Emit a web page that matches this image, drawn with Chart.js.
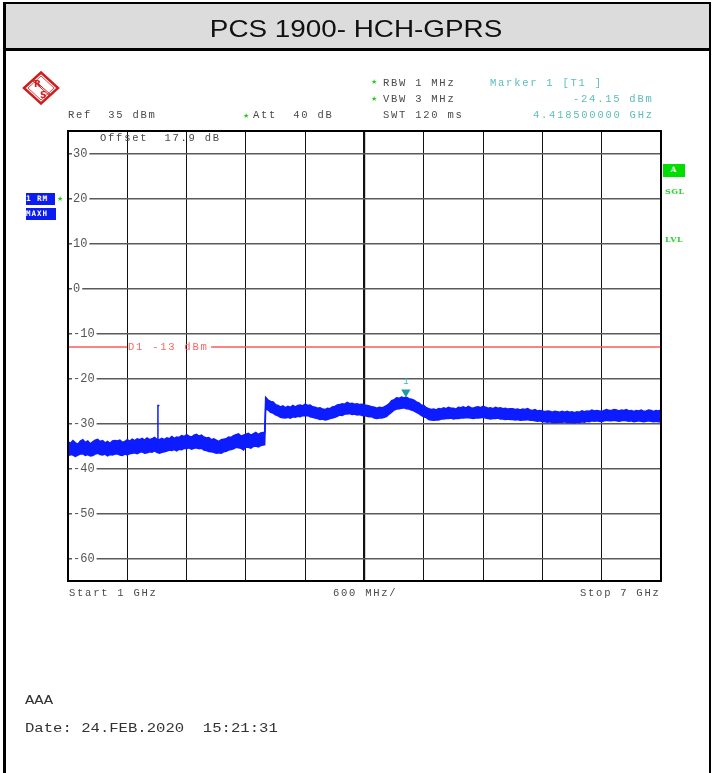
<!DOCTYPE html>
<html><head><meta charset="utf-8">
<script src="https://cdn.jsdelivr.net/npm/chart.js@4.4.1/dist/chart.umd.min.js"></script>
<style>
html,body{margin:0;padding:0;background:#fff;width:713px;height:773px;overflow:hidden}
#wrap{position:relative;width:713px;height:773px}
canvas{position:absolute;left:0;top:0}
.ln{position:absolute;background:#000}
.t{position:absolute;white-space:pre;font-family:"Liberation Mono",monospace;font-size:10.5px;letter-spacing:1.75px;color:#4a4a4a;line-height:12px;height:12px}
.teal{color:#5cbcbc}
.star{position:absolute;color:#22cc22;font-family:"DejaVu Sans",sans-serif;font-size:7px;line-height:8px}
.box{position:absolute;overflow:hidden;font-family:"DejaVu Sans Mono",monospace;font-weight:bold;font-size:7.5px;color:#fff;line-height:11px;white-space:pre;letter-spacing:1px}
.grn{position:absolute;font-family:"DejaVu Serif",serif;font-weight:bold;font-size:8px;color:#2fd22f;line-height:10px;letter-spacing:0.5px}
.foot{position:absolute;white-space:pre;font-family:"Liberation Mono",monospace;font-size:13px;color:#333;transform:scaleX(1.2);transform-origin:0 50%;line-height:16px}
#title{position:absolute;left:0;width:713px;top:14px;text-align:center;font-family:"Liberation Sans",Arial,sans-serif;font-size:24px;line-height:30px;color:#111}
#title span{display:inline-block;transform:scaleX(1.16)}
</style>
</head>
<body>
<div id="wrap">
<canvas id="c" width="713" height="773"></canvas>
<!-- page frame -->
<div class="ln" style="left:5px;top:4px;width:704px;height:44px;background:#dcdcdc"></div>
<div class="ln" style="left:3px;top:2px;width:708px;height:2px"></div>
<div class="ln" style="left:3px;top:48px;width:708px;height:3px"></div>
<div class="ln" style="left:3px;top:2px;width:2.5px;height:771px"></div>
<div class="ln" style="left:709px;top:2px;width:2px;height:771px"></div>
<div id="title"><span>PCS 1900- HCH-GPRS</span></div>

<!-- R&S logo -->
<svg style="position:absolute;left:22px;top:71px" width="38" height="34" viewBox="0 0 38 34">
  <polygon points="19,1.5 36,17 19,32.5 2,17" fill="none" stroke="#cc1f1f" stroke-width="2.5"/>
  <polygon points="19,5 32,17 19,29 6,17" fill="none" stroke="#cc1f1f" stroke-width="0.8"/>
  <line x1="10" y1="9" x2="28" y2="25" stroke="#cc1f1f" stroke-width="1"/>
  <line x1="11" y1="8" x2="29" y2="24" stroke="#cc1f1f" stroke-width="1"/>
  <text x="12" y="16" font-family="DejaVu Sans" font-weight="bold" font-size="9" fill="#cc1f1f">R</text>
  <text x="18" y="27" font-family="DejaVu Sans" font-weight="bold" font-size="9" fill="#cc1f1f">S</text>
</svg>

<div class="star" style="left:371px;top:78px">★</div>
<div class="t" style="left:383px;top:77px">RBW 1 MHz</div>
<div class="star" style="left:371px;top:95px">★</div>
<div class="t" style="left:383px;top:93px">VBW 3 MHz</div>
<div class="t" style="left:383px;top:109px">SWT 120 ms</div>
<div class="t teal" style="left:490px;top:77px">Marker 1 [T1 ]</div>
<div class="t teal" style="left:573px;top:93px">-24.15 dBm</div>
<div class="t teal" style="left:533px;top:109px">4.418500000 GHz</div>
<div class="t" style="left:68px;top:109px">Ref  35 dBm</div>
<div class="star" style="left:243px;top:112px">★</div>
<div class="t" style="left:253px;top:109px">Att  40 dB</div>
<div class="t" style="left:100px;top:132px">Offset  17.9 dB</div>
<div class="t" style="left:128px;top:341px;color:#ff6464">D1 -13 dBm</div>

<div class="box" style="left:26px;top:193px;width:29px;height:12px;background:#0a1cf0">1 RM</div>
<div class="star" style="left:57px;top:195px">★</div>
<div class="box" style="left:26px;top:208px;width:30px;height:12px;background:#0a1cf0">MAXH</div>
<div class="box" style="left:663px;top:164px;width:22px;height:13px;background:#00dd00;text-align:center;font-family:'DejaVu Serif',serif">A</div>
<div class="grn" style="left:665px;top:186px">SGL</div>
<div class="grn" style="left:665px;top:234px">LVL</div>

<div class="t" style="left:69px;top:587px">Start 1 GHz</div>
<div class="t" style="left:333px;top:587px">600 MHz/</div>
<div class="t" style="left:580px;top:587px">Stop 7 GHz</div>

<div class="foot" style="left:25px;top:693px">AAA</div>
<div class="foot" style="left:25px;top:721px">Date: 24.FEB.2020  15:21:31</div>
</div>

<script>
// ---------- data ----------
const freqMHz = [
 1000,1025,1050,1075,1100,1125,1150,1175,1200,1225,1250,1275,1300,1325,1350,1375,1400,1425,1450,1475,
 1500,1525,1550,1575,1600,1625,1650,1675,1700,1725,1750,1775,1800,1825,1850,1875,1900,1925,1950,1975,
 2000,2025,2050,2075,2100,2125,2150,2175,2200,2225,2250,2275,2300,2325,2350,2375,2400,2425,2450,2475,
 2500,2525,2550,2575,2600,2625,2650,2675,2700,2725,2750,2775,2800,2825,2850,2875,2900,2925,2950,2975,2990,
 3000,3025,3050,3075,3100,3125,3150,3175,3200,3225,3250,3275,3300,3325,3350,3375,3400,3425,3450,3475,
 3500,3525,3550,3575,3600,3625,3650,3675,3700,3725,3750,3775,3800,3825,3850,3875,3900,3925,3950,3975,
 4000,4025,4050,4075,4100,4125,4150,4175,4200,4225,4250,4275,4300,4325,4350,4375,4400,4425,4450,4475,
 4500,4525,4550,4575,4600,4625,4650,4675,4700,4725,4750,4775,4800,4825,4850,4875,4900,4925,4950,4975,
 5000,5025,5050,5075,5100,5125,5150,5175,5200,5225,5250,5275,5300,5325,5350,5375,5400,5425,5450,5475,
 5500,5525,5550,5575,5600,5625,5650,5675,5700,5725,5750,5775,5800,5825,5850,5875,5900,5925,5950,5975,
 6000,6025,6050,6075,6100,6125,6150,6175,6200,6225,6250,6275,6300,6325,6350,6375,6400,6425,6450,6475,
 6500,6525,6550,6575,6600,6625,6650,6675,6700,6725,6750,6775,6800,6825,6850,6875,6900,6925,6950,6975,
 7000];

const traceMaxDbm = [
 -34.0,-34.4,-33.8,-34.3,-34.6,-33.9,-33.6,-34.2,-33.9,-34.5,-34.1,-33.7,-33.5,-34.0,-33.8,-34.3,-34.0,-34.4,-33.9,-33.8,
 -33.9,-33.7,-34.2,-34.0,-33.6,-33.9,-33.5,-33.8,-33.4,-33.6,-33.3,-33.7,-33.2,-33.6,-33.4,-33.1,-33.5,-33.6,-33.3,-33.6,
 -33.2,-33.4,-32.9,-33.3,-33.0,-33.1,-32.7,-32.9,-32.5,-32.8,-33.0,-32.6,-32.4,-32.8,-32.6,-33.0,-33.2,-33.1,-33.6,-33.4,
 -33.7,-34.0,-33.6,-33.5,-33.4,-33.0,-33.1,-32.7,-32.5,-32.3,-32.8,-32.6,-32.4,-32.2,-32.6,-32.3,-32.0,-32.4,-32.1,-32.0,-32.0,
 -24.2,-24.8,-25.1,-25.2,-25.8,-26.0,-26.3,-26.1,-26.5,-26.2,-26.4,-26.0,-26.3,-26.0,-25.9,-26.1,-25.7,-26.0,-25.9,-26.3,
 -26.4,-26.6,-26.5,-26.8,-26.9,-26.6,-26.7,-26.3,-26.2,-25.9,-25.8,-25.6,-25.7,-25.3,-25.6,-25.5,-25.7,-25.6,-25.8,-25.7,
 -25.9,-26.0,-26.1,-26.3,-26.4,-26.6,-26.4,-26.5,-26.3,-26.0,-25.6,-24.9,-24.7,-24.3,-24.4,-24.1,-24.3,-24.2,-24.5,-24.6,
 -24.8,-25.2,-25.4,-25.9,-26.0,-26.5,-26.7,-26.9,-26.8,-27.0,-26.7,-26.8,-26.5,-26.7,-26.4,-26.6,-26.6,-26.8,-26.4,-26.5,
 -26.3,-26.6,-26.2,-26.5,-26.6,-26.4,-26.3,-26.5,-26.2,-26.4,-26.6,-26.5,-26.7,-26.4,-26.6,-26.5,-26.7,-26.6,-26.8,-26.7,
 -26.7,-26.9,-26.8,-27.0,-26.8,-26.9,-26.7,-27.0,-27.1,-26.9,-27.2,-27.1,-27.2,-27.4,-27.2,-27.3,-27.5,-27.3,-27.4,-27.5,
 -27.3,-27.5,-27.3,-27.5,-27.4,-27.6,-27.4,-27.5,-27.2,-27.4,-27.2,-27.3,-27.0,-27.2,-27.1,-27.2,-27.3,-27.1,-26.9,-27.1,
 -27.1,-26.9,-27.0,-27.2,-27.0,-27.1,-26.9,-27.2,-27.1,-27.3,-27.1,-27.2,-27.0,-27.3,-27.2,-27.0,-27.1,-27.3,-27.1,-27.2,
 -27.0];

const traceMinDbm = [
 -37.2,-36.9,-37.0,-37.3,-37.0,-36.8,-36.7,-37.1,-36.9,-37.2,-37.1,-36.8,-36.6,-36.9,-37.0,-36.8,-37.2,-36.9,-37.0,-36.8,
 -36.7,-37.0,-37.1,-36.8,-37.0,-36.7,-36.6,-36.5,-36.7,-36.4,-36.3,-36.6,-36.5,-36.3,-36.4,-36.1,-36.4,-36.6,-36.4,-36.3,
 -36.1,-35.9,-36.0,-35.8,-36.1,-35.7,-35.8,-35.5,-35.6,-35.4,-35.7,-35.5,-35.4,-35.6,-35.5,-35.9,-36.0,-36.2,-36.3,-36.4,
 -36.6,-36.5,-36.6,-36.3,-36.2,-35.9,-35.8,-35.6,-35.3,-35.4,-35.5,-35.9,-35.2,-35.3,-35.5,-35.1,-35.0,-35.2,-34.9,-34.8,-34.7,
 -26.8,-27.0,-27.5,-27.7,-28.1,-28.3,-28.6,-28.7,-28.8,-28.6,-28.8,-28.5,-28.6,-28.4,-28.5,-28.2,-28.3,-28.2,-28.5,-28.6,
 -28.8,-28.9,-29.1,-29.0,-29.2,-29.1,-28.9,-28.8,-28.6,-28.4,-28.1,-28.2,-27.9,-27.9,-27.8,-28.0,-27.9,-28.1,-28.0,-28.2,
 -28.2,-28.4,-28.5,-28.5,-28.8,-28.9,-28.8,-28.8,-28.6,-28.4,-27.9,-27.5,-27.0,-26.8,-26.7,-26.6,-26.5,-26.7,-26.8,-27.0,
 -27.2,-27.5,-27.8,-28.2,-28.5,-28.7,-29.1,-29.2,-29.3,-29.2,-29.2,-29.0,-29.0,-28.9,-28.9,-28.8,-29.0,-28.9,-28.9,-28.8,
 -28.8,-28.7,-28.7,-28.8,-28.9,-28.8,-28.8,-28.7,-28.6,-28.8,-28.9,-29.0,-28.9,-28.9,-28.8,-29.0,-29.0,-29.1,-29.0,-29.1,
 -29.1,-29.2,-29.1,-29.3,-29.2,-29.2,-29.1,-29.3,-29.3,-29.4,-29.5,-29.4,-29.6,-29.6,-29.7,-29.6,-29.8,-29.7,-29.8,-29.7,
 -29.7,-29.6,-29.8,-29.7,-29.8,-29.9,-29.7,-29.8,-29.6,-29.7,-29.5,-29.6,-29.4,-29.5,-29.4,-29.5,-29.6,-29.4,-29.3,-29.4,
 -29.4,-29.3,-29.4,-29.5,-29.4,-29.3,-29.4,-29.5,-29.4,-29.6,-29.5,-29.4,-29.5,-29.6,-29.5,-29.4,-29.5,-29.6,-29.5,-29.6,
 -29.6];

const spikeFreqMHz = [1910, 1910, 1925];
const spikeDbm = [-34.6, -26.0, -26.0];

const xGridMHz = [1000,1600,2200,2800,3400,4000,4600,5200,5800,6400,7000];
const yTickDbm = [30,20,10,0,-10,-20,-30,-40,-50,-60];
const yTickLabels = ['30','20','10','0','-10','-20','-30','-40','-50','-60'];

const limitLineDbm = -13;
const limitFreqMHz = [1000, 1597, 2448, 7000];   // line is broken where its label sits
const markerFreqMHz = 4418.5;
const markerDbm = -24.15;
const markerLabel = '1';

// ---------- chart ----------
const blue = '#0d1cff';
const xy = (xs, ys) => xs.map((x, i) => ({x, y: ys[i]}));
const limitData = [
  {x: limitFreqMHz[0], y: limitLineDbm}, {x: limitFreqMHz[1], y: limitLineDbm},
  {x: (limitFreqMHz[1] + limitFreqMHz[2]) / 2, y: null},
  {x: limitFreqMHz[2], y: limitLineDbm}, {x: limitFreqMHz[3], y: limitLineDbm}
];

const framePlugin = {
  id: 'frame',
  afterDraw(chart) {
    const {ctx, chartArea: a} = chart;
    ctx.save();
    ctx.strokeStyle = '#000';
    ctx.lineWidth = 2;
    ctx.strokeRect(a.left, a.top, a.right - a.left, a.bottom - a.top);
    ctx.restore();
  }
};
const markerPlugin = {
  id: 'marker',
  afterDatasetsDraw(chart) {
    const {ctx, scales} = chart;
    const x = scales.x.getPixelForValue(markerFreqMHz);
    const y = scales.y.getPixelForValue(markerDbm);
    ctx.save();
    ctx.fillStyle = '#1a9e9e';
    ctx.beginPath();
    ctx.moveTo(x, y);
    ctx.lineTo(x - 4.7, y - 7.6);
    ctx.lineTo(x + 4.7, y - 7.6);
    ctx.closePath();
    ctx.fill();
    ctx.fillStyle = '#45b4b4';
    ctx.font = '9px "Liberation Mono", monospace';
    ctx.textAlign = 'center';
    ctx.textBaseline = 'middle';
    ctx.fillText(markerLabel, x, y - 15.5);
    ctx.restore();
  }
};

new Chart(document.getElementById('c'), {
  type: 'line',
  data: {
    datasets: [
      {data: xy(freqMHz, traceMaxDbm), borderColor: blue, backgroundColor: blue, borderWidth: 1.5, pointRadius: 0, fill: '+1', tension: 0},
      {data: xy(freqMHz, traceMinDbm), borderColor: blue, backgroundColor: blue, borderWidth: 1.5, pointRadius: 0, fill: false, tension: 0},
      {data: xy(spikeFreqMHz, spikeDbm), borderColor: blue, borderWidth: 1.5, pointRadius: 0, fill: false},
      {data: limitData, borderColor: '#ff5a5a', borderWidth: 1.5, pointRadius: 0, fill: false, spanGaps: false}
    ]
  },
  options: {
    responsive: false,
    animation: false,
    devicePixelRatio: 1,
    layout: {padding: {left: 58, top: 131, right: 52, bottom: 192}},
    plugins: {legend: {display: false}, tooltip: {enabled: false}},
    scales: {
      x: {
        type: 'linear', min: 1000, max: 7000,
        afterBuildTicks: s => { s.ticks = xGridMHz.map(v => ({value: v})); },
        ticks: {display: false},
        grid: {drawTicks: false, color: '#111', lineWidth: c => (c.tick && c.tick.value === 4000) ? 2.2 : 1},
        border: {display: false}
      },
      y: {
        type: 'linear', min: -65, max: 35, position: 'left',
        afterBuildTicks: s => { s.ticks = yTickDbm.map(v => ({value: v})); },
        ticks: {
          mirror: true, padding: 5, color: '#555',
          font: {family: '"Liberation Mono", monospace', size: 12},
          callback: (v) => yTickLabels[yTickDbm.indexOf(v)],
          showLabelBackdrop: true, backdropColor: '#fff',
          backdropPadding: {top: 0, bottom: 0, left: 1, right: 2}
        },
        grid: {drawTicks: false, color: '#5a5a5a', lineWidth: 1.5},
        border: {display: false}
      }
    }
  },
  plugins: [framePlugin, markerPlugin]
});
</script>
</body></html>
